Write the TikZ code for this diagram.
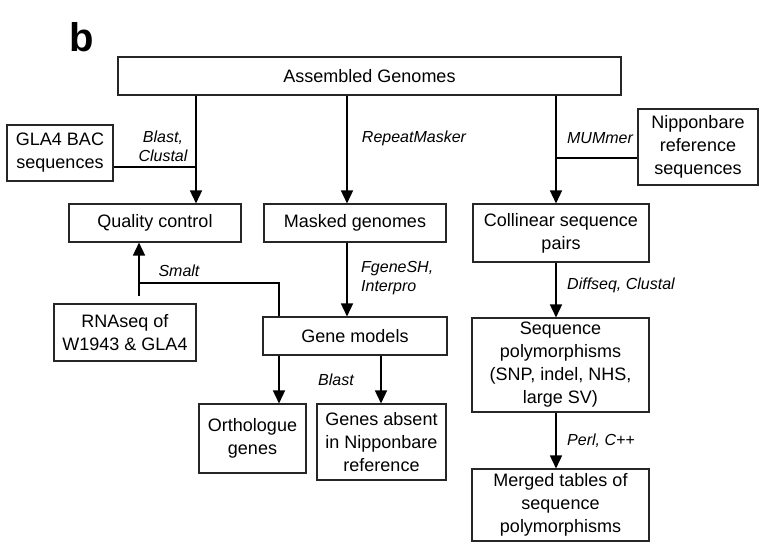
\documentclass[tikz,border=0pt]{standalone}
\usepackage{fontspec}
\setmainfont{Liberation Sans}
\usetikzlibrary{arrows.meta}
\begin{document}
\begin{tikzpicture}[x=1pt,y=-1pt,
  box/.style={draw=black!85, line width=1.1pt, inner sep=0pt, align=center, font=\fontsize{18}{23}\selectfont},
  lab/.style={font=\fontsize{16}{19}\selectfont\itshape, inner sep=0pt, align=center},
  conn/.style={line width=1.5pt},
  arr/.style={conn, -{Triangle[width=12pt,length=13pt]}}]
\useasboundingbox (0,0) rectangle (769,555);
\node[font=\bfseries\fontsize{40}{46}\selectfont, inner sep=0pt] (b) at (82,37) {b};
\node[box, minimum width=503pt, minimum height=38pt] (asm) at (369.5,76) {Assembled Genomes};
\node[box, minimum width=106pt, minimum height=56pt] (gla) at (60,153) {GLA4 BAC\\sequences};
\node[box, minimum width=172pt, minimum height=38pt] (qc) at (155,223) {Quality control};
\node[box, minimum width=182pt, minimum height=38pt] (mask) at (355,223) {Masked genomes};
\node[box, minimum width=176pt, minimum height=58pt] (col) at (561,233) {Collinear sequence\\pairs};
\node[box, minimum width=120pt, minimum height=76pt] (nip) at (698,147) {Nipponbare\\reference\\sequences};
\node[box, minimum width=142pt, minimum height=57pt] (rna) at (125,332.5) {RNAseq of\\W1943 \& GLA4};
\node[box, minimum width=184pt, minimum height=38pt] (gm) at (355,336) {Gene models};
\node[box, minimum width=107pt, minimum height=69pt] (orth) at (252.5,438.5) {Orthologue\\genes};
\node[box, minimum width=129pt, minimum height=76pt] (abs) at (381.5,442) {Genes absent\\in Nipponbare\\reference};
\node[box, minimum width=177pt, minimum height=94pt] (sp) at (560.5,365) {Sequence\\polymorphisms\\(SNP, indel, NHS,\\large SV)};
\node[box, minimum width=177pt, minimum height=72pt] (mt) at (560.5,505) {Merged tables of\\sequence\\polymorphisms};
% labels
\node[lab] (l1) at (163,146) {Blast,\\Clustal};
\node[lab] (l2) at (414,138) {RepeatMasker};
\node[lab] (l3) at (600,138) {MUMmer};
\node[lab, align=left, anchor=west] (l4) at (361,278) {FgeneSH,\\Interpro};
\node[lab] (l5) at (179,271) {Smalt};
\node[lab] (l6) at (336,380) {Blast};
\node[lab] (l7) at (621,285) {Diffseq, Clustal};
\node[lab] (l8) at (601,441) {Perl, C++};
% coordinates
\coordinate (xq) at (196,167);
\coordinate (xr) at (347,0);
\coordinate (xm) at (556,158);
\coordinate (s1) at (279,283);
\coordinate (s2) at (139,283);
\coordinate (xb) at (381,0);
% connectors
\draw[arr] (asm.south -| xq) -- (qc.north -| xq);
\draw[conn] (xq) -- (xq -| gla.east);
\draw[arr] (asm.south -| xr) -- (mask.north -| xr);
\draw[arr] (asm.south -| xm) -- (col.north -| xm);
\draw[conn] (xm) -- (xm -| nip.west);
\draw[arr] (mask.south -| xr) -- (gm.north -| xr);
\draw[arr] (gm.north -| s1) -- (s1) -- (s2) -- (qc.south -| s2);
\draw[conn, shorten <=7pt] (rna.north -| s2) -- (s2);
\draw[arr] (gm.south -| s1) -- (orth.north -| s1);
\draw[arr] (gm.south -| xb) -- (abs.north -| xb);
\draw[arr] (col.south -| xm) -- (sp.north -| xm);
\draw[arr] (sp.south -| xm) -- (mt.north -| xm);
\end{tikzpicture}
\end{document}
